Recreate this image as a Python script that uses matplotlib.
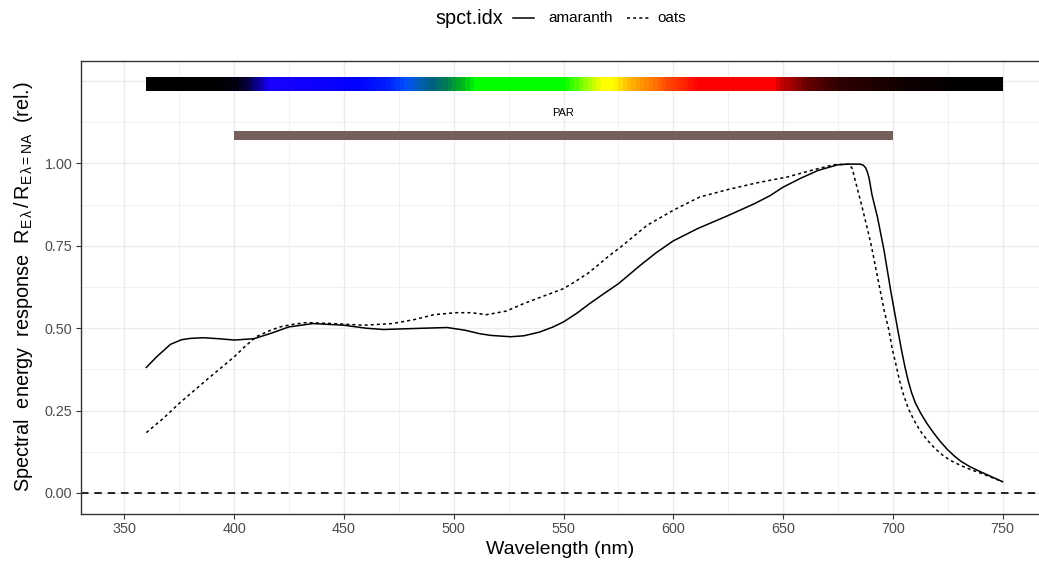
import numpy as np
import matplotlib
matplotlib.use("Agg")
import matplotlib.pyplot as plt
from matplotlib.lines import Line2D
from matplotlib.colors import to_rgb

plt.rcParams['font.family'] = ['Liberation Sans', 'DejaVu Sans']
plt.rcParams['mathtext.fontset'] = 'custom'
plt.rcParams['mathtext.rm'] = 'Liberation Sans'
plt.rcParams['mathtext.it'] = 'Liberation Sans'
plt.rcParams['mathtext.bf'] = 'Liberation Sans:bold'

# ---------------- data ----------------
amaranth_wl = [360, 365, 371, 376, 380, 386, 393, 400, 409, 417, 425, 436, 450, 460,
               468, 482, 497, 505, 512, 517, 526, 532, 539, 545, 550, 556, 562, 568,
               575, 585, 592, 600, 611, 625, 637, 644, 650, 658, 666, 675, 680, 685,
               686.5, 687.6, 688.4, 689.2, 690.5, 693, 696, 699, 702, 704, 705.5, 707,
               708.5, 710.2, 712.6, 715.5, 718.7, 721.5, 724.8, 728, 731, 735, 740,
               745, 750]
amaranth_val = [0.381, 0.415, 0.451, 0.465, 0.469, 0.471, 0.468, 0.464, 0.468, 0.485,
                0.504, 0.514, 0.509, 0.500, 0.496, 0.499, 0.502, 0.494, 0.483, 0.478,
                0.474, 0.477, 0.488, 0.503, 0.519, 0.545, 0.575, 0.603, 0.635, 0.691,
                0.728, 0.765, 0.802, 0.842, 0.878, 0.902, 0.928, 0.955, 0.979, 0.996,
                0.998, 0.998, 0.995, 0.987, 0.974, 0.955, 0.905, 0.837, 0.736, 0.615,
                0.504, 0.432, 0.383, 0.340, 0.305, 0.274, 0.243, 0.211, 0.181, 0.157,
                0.132, 0.112, 0.096, 0.080, 0.064, 0.049, 0.034]

oats_wl = [360, 368, 375, 382, 389, 395, 400, 405, 410, 416, 421, 427, 433, 445, 459,
           472, 482, 491, 501, 508, 515, 524, 532, 540, 550, 555, 561, 566, 571, 576,
           588, 600, 612, 625, 638, 652, 664, 673, 680, 681.5, 683, 686, 690, 693, 696,
           698.2, 699.7, 701.3, 703, 705, 707, 709.6, 712.5, 715.7, 719.5, 723.3, 727,
           731, 735, 740, 745, 750]
oats_val = [0.183, 0.228, 0.272, 0.312, 0.352, 0.385, 0.413, 0.445, 0.474, 0.492,
            0.504, 0.512, 0.517, 0.514, 0.509, 0.514, 0.526, 0.541, 0.547, 0.547,
            0.541, 0.552, 0.575, 0.595, 0.620, 0.640, 0.666, 0.693, 0.721, 0.746,
            0.812, 0.858, 0.898, 0.921, 0.941, 0.959, 0.981, 0.996, 0.998, 0.985,
            0.945, 0.868, 0.757, 0.656, 0.555, 0.494, 0.438, 0.393, 0.342, 0.295,
            0.257, 0.221, 0.188, 0.160, 0.133, 0.111, 0.096, 0.083, 0.072, 0.060,
            0.047, 0.034]

series_names = ["amaranth", "oats"]

x_ticks = [350, 400, 450, 500, 550, 600, 650, 700, 750]
y_ticks = [0.00, 0.25, 0.50, 0.75, 1.00]
y_tick_labels = ["0.00", "0.25", "0.50", "0.75", "1.00"]

par_range = [400, 700]
par_label = "PAR"
wl_bar_range = [360, 750]

# colour of wavelengths (decoration nodes)
spec_nodes_wl = [360, 390, 400, 405, 410, 416, 440, 455, 470, 478, 485, 490, 497, 503,
                 510, 550, 556, 562, 568, 573, 578, 584, 592, 599, 606, 611, 646, 650,
                 655, 660, 667, 675, 690, 705, 720, 735, 750]
spec_nodes_col = ["#000000", "#000000", "#02000f", "#060038", "#0c0090", "#1800ff",
                  "#0c00ff", "#0000ff", "#0020ff", "#0050ff", "#0060b0", "#006080",
                  "#008050", "#00b020", "#00ff00", "#00ff00", "#50ff00", "#b0ff00",
                  "#ffff00", "#ffff00", "#ffc800", "#ffa000", "#ff7000", "#ff4000",
                  "#ff2000", "#ff0000", "#ff0000", "#c00000", "#a00000", "#700000",
                  "#500000", "#300000", "#200000", "#100000", "#080000", "#000000",
                  "#000000"]

# ---------------- figure ----------------
W, H = 1039, 563
fig = plt.figure(figsize=(W / 100, H / 100), dpi=100)
left, right, top, bottom = 80.7, 1039.5, 60.5, 513.5
ax = fig.add_axes([left / W, 1 - bottom / H, (right - left) / W, (bottom - top) / H])

ax.set_xlim(330.1, 766.8)
ax.set_ylim(-0.0625, 1.3125)

grid_col = "#EBEBEB"
ax.set_xticks(x_ticks)
ax.set_xticks([325, 375, 425, 475, 525, 575, 625, 675, 725, 775], minor=True)
ax.set_yticks(y_ticks)
ax.set_yticklabels(y_tick_labels)
ax.set_yticks([0.125, 0.375, 0.625, 0.875, 1.125], minor=True)
ax.grid(True, which="major", color=grid_col, lw=1.0, zorder=0)
ax.grid(True, which="minor", color=grid_col, lw=0.5, zorder=0)
ax.axhline(1.25, color=grid_col, lw=1.0, zorder=0)
ax.set_axisbelow(True)
ax.tick_params(which="minor", length=0)
ax.tick_params(which="major", length=3.5, width=0.8, color="#333333",
               labelcolor="#4D4D4D", labelsize=10.4, pad=2.5)
for s in ax.spines.values():
    s.set_color("#333333")
    s.set_linewidth(1.0)

# zero line
ax.axhline(0, color="black", lw=1.2, linestyle=(0, (4.5, 3.5)), zorder=2)

# curves
ax.plot(amaranth_wl, amaranth_val, color="black", lw=1.1, solid_joinstyle="round", zorder=3)
ax.plot(oats_wl, oats_val, color="black", lw=1.1, linestyle=(0, (2, 2)), zorder=3)

# wavelength colour bar
wl_grid = np.arange(wl_bar_range[0], wl_bar_range[1] + 0.1, 2.0)
node_rgb = np.array([to_rgb(c) for c in spec_nodes_col])
rgb = np.stack([np.interp(wl_grid, spec_nodes_wl, node_rgb[:, k]) for k in range(3)], axis=-1)
ax.imshow(rgb[np.newaxis, :, :], extent=[wl_bar_range[0], wl_bar_range[1], 1.219, 1.2595],
          aspect="auto", interpolation="nearest", zorder=2)

# PAR bar
ax.fill_between(par_range, [1.071, 1.071], [1.097, 1.097], color="#745F5A", lw=0, zorder=2)
ax.text(sum(par_range) / 2, 1.152, par_label, ha="center", va="center", fontsize=8,
        color="black")

ax.set_xlim(330.1, 766.8)
ax.set_ylim(-0.0625, 1.3125)

# labels
ax.set_xlabel("Wavelength (nm)", fontsize=14, color="black", labelpad=4)
ax.set_ylabel(r"Spectral  energy  response  $\mathrm{R_{E\,\lambda}\,/\,R_{E\,\lambda=NA}}$  (rel.)",
              fontsize=14.3, color="black", labelpad=7)

# legend (top)
ly = 1 - 18 / H
fig.text(435 / W, ly, "spct.idx", fontsize=14.3, ha="left", va="center")
fig.add_artist(Line2D([513 / W, 534 / W], [ly, ly], color="black", lw=1.1,
                      transform=fig.transFigure))
fig.text(548 / W, ly, series_names[0], fontsize=11, ha="left", va="center")
fig.add_artist(Line2D([627 / W, 649 / W], [ly, ly], color="black", lw=1.1,
                      linestyle=(0, (2, 2)), transform=fig.transFigure))
fig.text(657 / W, ly, series_names[1], fontsize=11, ha="left", va="center")

fig.savefig("out.png", dpi=100)
